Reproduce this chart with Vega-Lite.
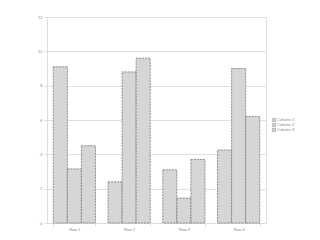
{
  "$schema": "https://vega.github.io/schema/vega-lite/v6.json",
  "autosize": "none",
  "width": 219,
  "height": 206,
  "padding": {"left": 47, "top": 17, "right": 54, "bottom": 17},
  "background": "white",
  "config": {"view": {"stroke": "#e0e0e0"}},
  "data": {"values": [
    {"row": "Row 1", "col": "Column 1", "v": 9.1},
    {"row": "Row 1", "col": "Column 2", "v": 3.15},
    {"row": "Row 1", "col": "Column 3", "v": 4.5},
    {"row": "Row 2", "col": "Column 1", "v": 2.4},
    {"row": "Row 2", "col": "Column 2", "v": 8.8},
    {"row": "Row 2", "col": "Column 3", "v": 9.6},
    {"row": "Row 3", "col": "Column 1", "v": 3.1},
    {"row": "Row 3", "col": "Column 2", "v": 1.45},
    {"row": "Row 3", "col": "Column 3", "v": 3.7},
    {"row": "Row 4", "col": "Column 1", "v": 4.25},
    {"row": "Row 4", "col": "Column 2", "v": 9.0},
    {"row": "Row 4", "col": "Column 3", "v": 6.2}
  ]},
  "mark": {"type": "bar", "stroke": "#777", "strokeWidth": 0.8, "strokeDash": [2, 1]},
  "encoding": {
    "x": {"field": "row", "type": "nominal", "title": null,
      "scale": {"paddingInner": 0.23, "paddingOuter": 0.115},
      "axis": {"labelAngle": 0, "labelFontSize": 4, "labelColor": "#888", "domainColor": "#ddd", "tickColor": "#ddd", "tickBand": "extent", "tickSize": 3, "labelPadding": 1}},
    "xOffset": {"field": "col", "type": "nominal"},
    "y": {"field": "v", "type": "quantitative", "title": null,
      "scale": {"domain": [0, 12], "nice": false},
      "axis": {"values": [0, 2, 4, 6, 8, 10, 12], "labelFontSize": 4, "labelColor": "#888", "domainColor": "#ddd", "tickColor": "#ddd", "gridColor": "#e0e0e0", "tickSize": 3, "labelPadding": 2}},
    "color": {"field": "col", "type": "nominal", "title": null,
      "scale": {"range": ["#d6d6d6", "#d6d6d6", "#d6d6d6"]},
      "legend": {"orient": "none", "legendX": 225, "legendY": 101, "labelFontSize": 4, "labelColor": "#888", "symbolType": "square", "symbolSize": 10, "symbolStrokeColor": "#888", "symbolStrokeWidth": 0.5, "rowPadding": -1, "labelOffset": 1, "symbolOffset": 0}}
  }
}
